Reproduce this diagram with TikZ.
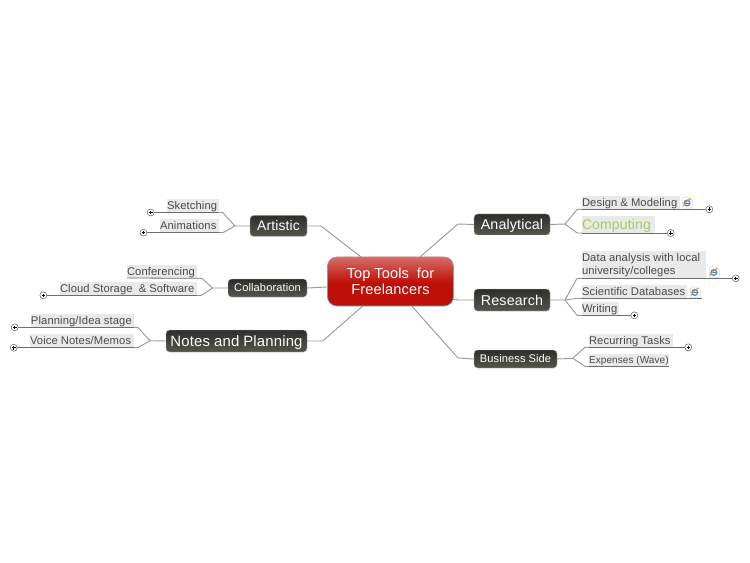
\documentclass[tikz,border=0pt]{standalone}
\usepackage{fontspec}
\setmainfont[LetterSpace=1,WordSpace=0.95]{Liberation Sans}
\definecolor{txt}{HTML}{4A4A46}
\definecolor{lbg}{HTML}{E9E9E9}
\definecolor{wire}{HTML}{9A9A96}
\definecolor{wirek}{HTML}{6E6E6A}
\definecolor{green1}{HTML}{A4CC5C}
\definecolor{redA}{HTML}{D46E6A}
\definecolor{redB}{HTML}{BE1008}
\definecolor{darkA}{HTML}{2E2E2C}
\definecolor{darkB}{HTML}{56554C}
\definecolor{ieblue}{HTML}{3C8CDC}
\pgfdeclareverticalshading{redtop}{100bp}{color(0bp)=(redB); color(49bp)=(redB); color(75bp)=(redA); color(100bp)=(redA)}
\tikzset{
  x=0.75pt,y=-0.75pt,
  wirea/.style={draw=wire,line width=0.7pt},
  wireb/.style={draw=wirek,line width=0.6pt},
  dark/.style={rounded corners=2.6pt,draw=black!28,line width=0.35pt,text=white,inner sep=0pt,
    top color=darkA,bottom color=darkB,anchor=center,align=center,text depth=0pt},
  lab/.style={fill=lbg,inner sep=0pt,anchor=south west,text=txt,align=left,outer sep=0pt},
  plus/.style={circle,draw=black!60,fill=white,line width=0.4pt,minimum size=5.2pt,inner sep=0pt},
}
\newcommand{\fs}[1]{\fontsize{#1}{#1}\selectfont}
% \lab{name}{x0}{y0}{x1}{y1}{font pt}{text}
\newcommand{\lab}[7]{\node[lab,text width=(#4-#2)*0.75pt,minimum height=(#5-#3)*0.75pt,text depth=0pt,text height=#6*0.72pt] (#1) at (#2,#5) {\fs{#6}\spaceskip=0pt\relax\mbox{#7}};}
\newcommand{\darknode}[7]{\node[dark,minimum width=(#4-#2)*0.75pt,minimum height=(#5-#3)*0.75pt,text height=#6*0.72pt] (#1) at ({(#2+#4)/2},{(#3+#5)/2}) {\fs{#6}#7};}
\newcommand{\plusnode}[3]{\node[plus] (#1) at (#2,#3) {};\draw[black,line width=0.5pt] (#2-1.8,#3) -- (#2+1.8,#3) (#2,#3-1.8) -- (#2,#3+1.8);}
\newcommand{\ieicon}[2]{\fill[white,draw=black!25,line width=0.25pt] (#1,#2) -- (#1+7,#2) -- (#1+10,#2+3) -- (#1+10,#2+10.5) -- (#1,#2+10.5) -- cycle;
 \draw[ieblue,line width=0.9pt] (#1+4.3,#2+5.5) circle[radius=2.9];
 \draw[ieblue,line width=0.7pt] (#1+1.6,#2+5.5) -- (#1+7,#2+5.5);
 \draw[orange,line width=0.7pt] (#1+0.5,#2+8.5) .. controls (#1+2.5,#2+5.5) and (#1+5,#2+2.5) .. (#1+8,#2+1);}
\begin{document}
\begin{tikzpicture}
\useasboundingbox (0,0) rectangle (750,563);
\fill[white] (0,0) rectangle (750,563);

% central node
\node[rounded corners=7pt,draw=black!40,line width=0.5pt,shading=redtop,
  minimum width=126*0.75pt,minimum height=49*0.75pt,inner sep=0pt,text=white,align=center,
  font=\fontsize{10.9}{12.4}\selectfont]
  (top) at (390.5,281.5) {Top Tools\ \ for\\Freelancers};

% main topics
\darknode{artistic}{250}{215.5}{307}{236.5}{10.4}{Artistic}
\darknode{collab}{228}{279}{307}{297}{8.3}{Collaboration}
\darknode{notes}{166}{330}{307}{352}{11.2}{Notes and Planning}
\darknode{analytical}{474}{214}{550}{235}{10.7}{Analytical}
\darknode{research}{474}{289}{550}{311}{10.7}{Research}
\darknode{business}{474}{350}{557}{368}{8.3}{Business Side}

% subtopic labels
\lab{sketch}{167}{199}{219}{212}{8.4}{Sketching}
\lab{anim}{160}{219}{219}{232}{8.4}{Animations}
\lab{conf}{127}{265}{197}{278}{8.4}{Conferencing}
\lab{cloud}{60}{282}{197}{295}{8.4}{Cloud Storage\ \ \& Software}
\lab{plan}{31}{314}{134}{327}{8.4}{Planning/Idea stage}
\lab{voice}{30}{334}{134}{347}{8.4}{Voice Notes/Memos}
\lab{design}{582}{196}{680}{209}{8.4}{Design \& Modeling}
\node[lab,text=green1,text width=73*0.75pt,minimum height=17*0.75pt,text depth=0pt,text height=7.6pt] (comp) at (582,233) {\fs{10.5}\mbox{Computing}};
\node[lab,text width=124*0.75pt,minimum height=26.5*0.75pt,font=\fontsize{8.4}{9.75}\selectfont] (data) at (582,278) {\spaceskip=0pt\relax\mbox{Data analysis with local}\\\mbox{university/colleges}};
\lab{sci}{582}{285}{687}{298}{8.4}{Scientific Databases}
\lab{writing}{582}{302}{619}{315}{8.4}{Writing}
\lab{recur}{589}{334}{673}{347}{8.4}{Recurring Tasks}
\lab{exp}{589}{354}{669}{366}{7.5}{Expenses (Wave)}

% collapse markers
\plusnode{pa}{150.7}{212.5}
\plusnode{pb}{143.5}{232.7}
\plusnode{pc}{43.3}{295.3}
\plusnode{pd}{14.7}{327.3}
\plusnode{pe}{13.7}{347.7}
\plusnode{pf}{709.3}{209.3}
\plusnode{pg}{670.7}{233}
\plusnode{ph}{735.7}{278.3}
\plusnode{pi}{634.3}{315.3}
\plusnode{pj}{688.3}{347.3}

% connector helper points
\coordinate (topNW) at (361,257);
\coordinate (topNE) at (420,257);
\coordinate (topSW) at (362.7,306);
\coordinate (topSE) at (411.7,306);
\coordinate (topW) at (327,287);
\coordinate (topE) at (453,299);

% main connectors
\draw[wirea] (artistic.east) -- (321,226) -- (topNW);
\draw[wirea] (collab.east) -- (topW);
\draw[wirea] (notes.east) -- (322.7,341) -- (topSW);
\draw[wirea] (analytical.west) -- (458,224) -- (topNE);
\draw[wirea] (research.west) -- (458,300) -- (topE);
\draw[wirea] (business.west) -- (458,358) -- (topSE);

% branches
\draw[wirea] (artistic.west) -- (235,226) coordinate (ja) -- (222.7,212.5) -- (219,212.5);
\draw[wirea] (ja) -- (222.7,232.7) -- (219,232.7);
\draw[wireb] (219,212.5) -- (pa);
\draw[wireb] (219,232.7) -- (pb);

\draw[wirea] (collab.west) -- (212.7,288) coordinate (jb) -- (201.7,278.3) -- (197,278.3);
\draw[wirea] (jb) -- (201.7,295.3) -- (197,295.3);
\draw[wireb] (197,278.3) -- (conf.south west);
\draw[wireb] (197,295.3) -- (pc);

\draw[wirea] (notes.west) -- (150,340.7) coordinate (jc) -- (137.7,327.3) -- (134,327.3);
\draw[wirea] (jc) -- (137.7,347.7) -- (134,347.7);
\draw[wireb] (134,327.3) -- (pd);
\draw[wireb] (134,347.7) -- (pe);

\draw[wirea] (analytical.east) -- (565,224) coordinate (jd) -- (577.3,209.3) -- (582,209.3);
\draw[wirea] (jd) -- (577.3,233) -- (582,233);
\draw[wireb] (582,209.3) -- (pf);
\draw[wireb] (582,233) -- (pg);

\draw[wirea] (research.east) -- (565,300) coordinate (je) -- (577,278.3) -- (582,278.3);
\draw[wirea] (je) -- (577,298.3) -- (582,298.3);
\draw[wirea] (565,300) -- (577,315.3) -- (582,315.3);
\draw[wireb] (582,278.3) -- (ph);
\draw[wireb] (582,298.3) -- (701.7,298.3);
\draw[wireb] (582,315.3) -- (pi);

\draw[wirea] (business.east) -- (572.7,358.3) coordinate (jf) -- (585,347.3) -- (589,347.3);
\draw[wirea] (jf) -- (585,366.3) -- (589,366.3);
\draw[wireb] (589,347.3) -- (pj);
\draw[wireb] (589,366.3) -- (669,366.3);

% link icons
\ieicon{682.7}{197.5}
\ieicon{709.5}{267}
\ieicon{690.5}{287}
\end{tikzpicture}
\end{document}
